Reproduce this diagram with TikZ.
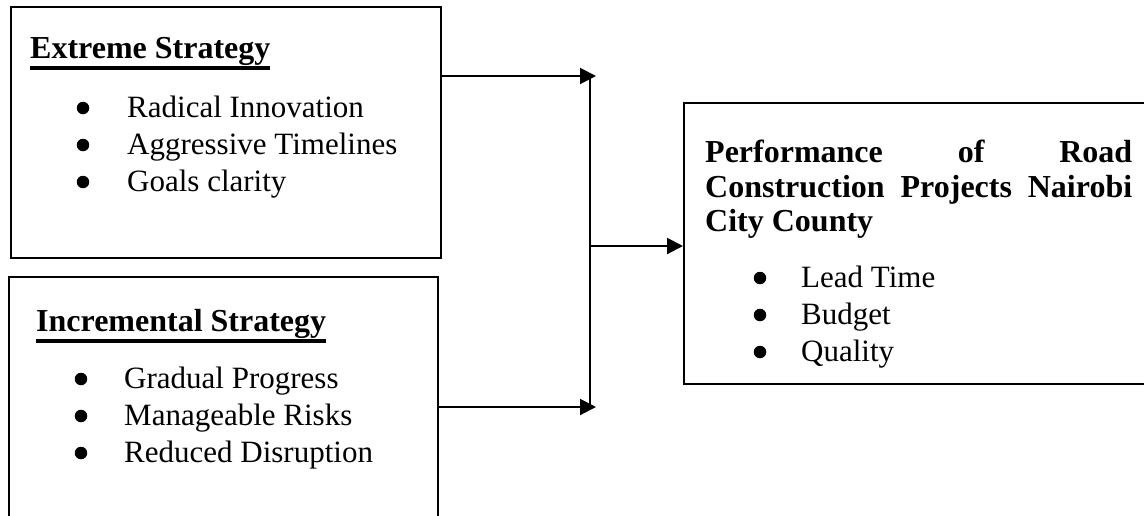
\documentclass[tikz,border=0pt]{standalone}
\usepackage{fontspec}
\setmainfont{Liberation Serif}
\usetikzlibrary{arrows.meta}
\newcommand\ulhead[1]{\setbox0\hbox{\fontsize{32}{37}\selectfont\bfseries #1}\rlap{\rule[-11.5pt]{\wd0}{3.4pt}}\box0}

\begin{document}
\begin{tikzpicture}
		[x=1pt,y=-1pt,
		font=\fontsize{31}{37}\selectfont,
		box/.style={draw,line width=2pt,anchor=north west,inner sep=0pt},
		head/.style={anchor=base west,inner sep=0pt},
		boldhead/.style={head,font=\fontsize{32}{37}\selectfont\bfseries},
		item/.style={anchor=base west,inner sep=0pt},
		dot/.style={circle,fill,inner sep=0pt,minimum size=12.5pt},
		flow/.style={line width=2pt,-{Triangle[length=16pt,width=16pt]}},
		link/.style={line width=2pt}
	]
		\useasboundingbox (0,0) rectangle (1144,515);
		\clip (0,0) rectangle (1144,515);
		% the three boxes
		\node[box,minimum width=430pt,minimum height=251pt] (extreme) at (10,6) {};
		\node[box,minimum width=429pt,minimum height=262pt] (incremental) at (8,276) {};
		\node[box,minimum width=480pt,minimum height=281pt] (perf) at (683,102) {};
		% extreme strategy
		\node[head] (extreme head) at (30,58) {\ulhead{Extreme Strategy}};
		\node[dot] (extreme dot1) at (83,108) {};
		\node[item] (extreme item1) at (127,117) {Radical Innovation};
		\node[dot] (extreme dot2) at (83,145) {};
		\node[item] (extreme item2) at (127,154) {Aggressive Timelines};
		\node[dot] (extreme dot3) at (83,182) {};
		\node[item] (extreme item3) at (127,191) {Goals clarity};
		% incremental strategy
		\node[head] (incremental head) at (36,331) {\ulhead{Incremental Strategy}};
		\node[dot] (incremental dot1) at (81,379) {};
		\node[item] (incremental item1) at (124,388) {Gradual Progress};
		\node[dot] (incremental dot2) at (81,416) {};
		\node[item] (incremental item2) at (124,425) {Manageable Risks};
		\node[dot] (incremental dot3) at (81,453) {};
		\node[item] (incremental item3) at (124,462) {Reduced Disruption};
		% performance
		\node[boldhead] (perf head1) at (705,162) {\makebox[427pt][s]{Performance of Road}};
		\node[boldhead] (perf head2) at (705,197) {\makebox[427pt][s]{Construction Projects Nairobi}};
		\node[boldhead] (perf head3) at (705,231) {City County};
		\node[dot] (perf dot1) at (760,278) {};
		\node[item] (perf item1) at (801,287) {Lead Time};
		\node[dot] (perf dot2) at (760,315) {};
		\node[item] (perf item2) at (801,324) {Budget};
		\node[dot] (perf dot3) at (760,352) {};
		\node[item] (perf item3) at (801,361) {Quality};
		% connectors
		\coordinate (in top) at (596,76);
		\coordinate (in bot) at (596,407);
		\coordinate (bus top) at (590,76);
		\coordinate (bus bot) at (590,407);
		\coordinate (bus mid) at (590,246);
		\draw[flow] (extreme.east |- in top) -- (in top);
		\draw[flow] (incremental.east |- in bot) -- (in bot);
		\draw[link] (bus top) -- (bus bot);
		\draw[flow] (bus mid) -- (bus mid -| perf.west);
	\end{tikzpicture}
\end{document}
